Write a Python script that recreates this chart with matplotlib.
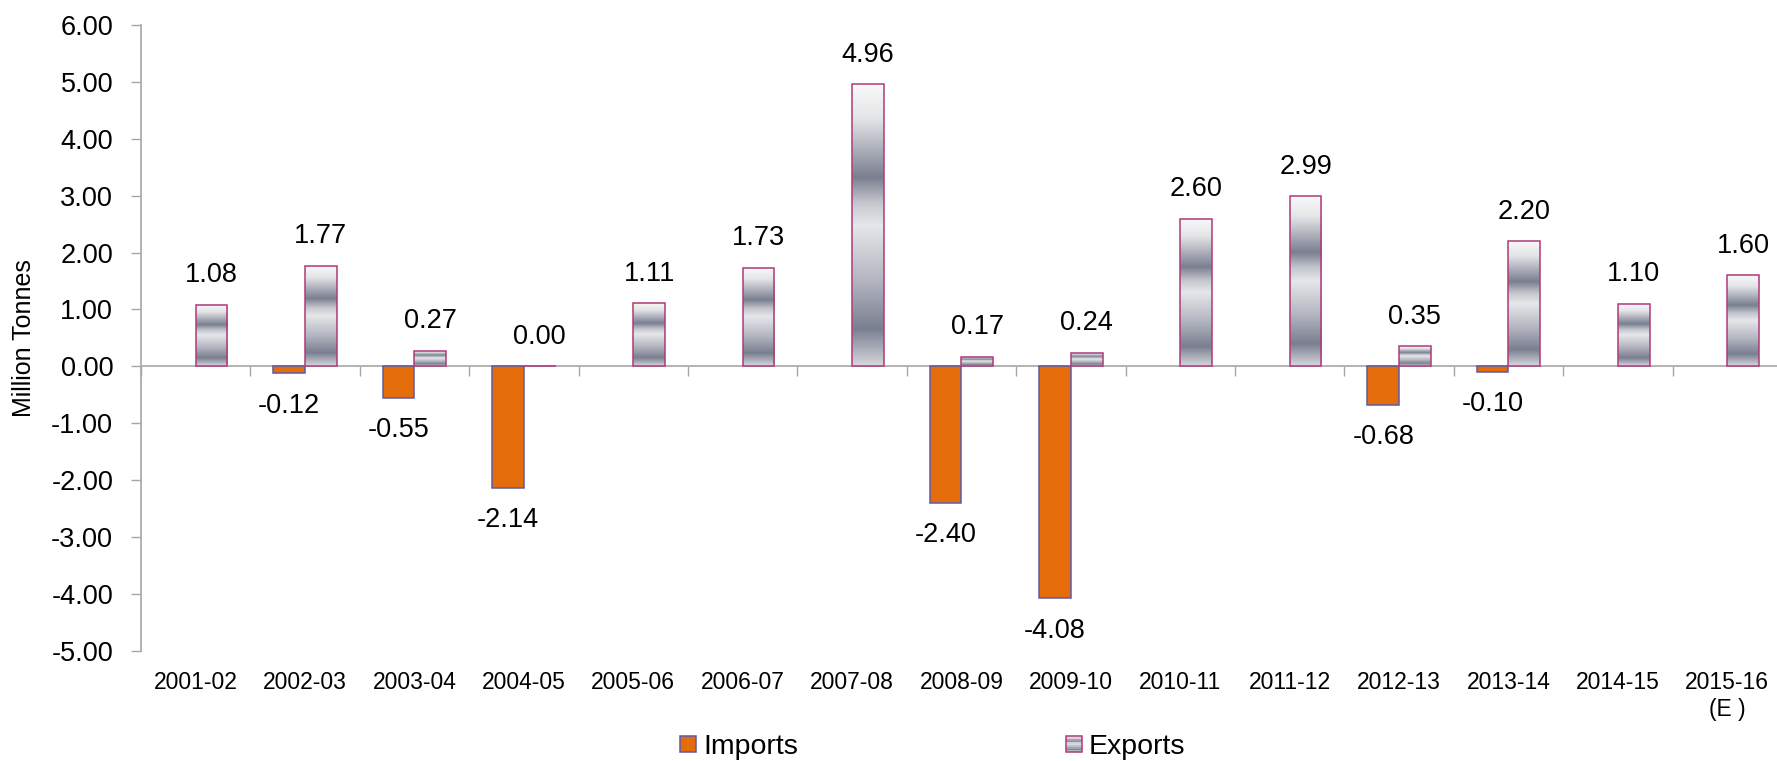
import numpy as np
import matplotlib
matplotlib.use('Agg')
import matplotlib.pyplot as plt
from matplotlib.colors import LinearSegmentedColormap
from matplotlib.patches import Patch, Rectangle
from matplotlib.legend_handler import HandlerBase

plt.rcParams['font.family'] = ['Liberation Sans', 'DejaVu Sans']

# ---- Datos (millones de toneladas) ----
years = ['2001-02', '2002-03', '2003-04', '2004-05', '2005-06', '2006-07', '2007-08',
         '2008-09', '2009-10', '2010-11', '2011-12', '2012-13', '2013-14', '2014-15',
         '2015-16\n(E )']
imports = [None, -0.12, -0.55, -2.14, None, None, None,
           -2.40, -4.08, None, None, -0.68, -0.10, None, None]
exports = [1.08, 1.77, 0.27, 0.00, 1.11, 1.73, 4.96,
           0.17, 0.24, 2.60, 2.99, 0.35, 2.20, 1.10, 1.60]
yticks = [-5, -4, -3, -2, -1, 0, 1, 2, 3, 4, 5, 6]

# ---- Estilos ----
IMP_COLOR = '#e46c0a'
IMP_EDGE = '#5b5ba8'
EXP_EDGE = '#b03a78'
AXIS_GRAY = '#a6a6a6'
W = 0.29

# degradado "cromo" de arriba hacia abajo
chrome = LinearSegmentedColormap.from_list('chrome', [
    (0.00, '#f9f9f9'), (0.12, '#e4e5e8'), (0.33, '#7a7f90'),
    (0.42, '#c4c6cd'), (0.50, '#e6e7ea'), (0.70, '#b2b5bf'),
    (0.87, '#7a7f90'), (1.00, '#d6d7dc')])
grad = np.linspace(0, 1, 256).reshape(-1, 1)


class HandlerChrome(HandlerBase):
    # cuadrito de la leyenda con franjas del degradado
    def create_artists(self, legend, orig_handle, xdescent, ydescent,
                       width, height, fontsize, trans):
        arts = []
        n = 10
        for k in range(n):
            y0 = -ydescent + height * (1 - (k + 1) / n)
            arts.append(Rectangle((-xdescent, y0), width, height / n,
                                  facecolor=chrome((k + 0.5) / n), edgecolor='none',
                                  transform=trans))
        arts.append(Rectangle((-xdescent, -ydescent), width, height, facecolor='none',
                              edgecolor=EXP_EDGE, linewidth=1.1, transform=trans))
        return arts


fig = plt.figure(figsize=(17.77, 7.61), dpi=100)
ax = fig.add_axes([0.0793, 0.1452, 0.9235, 0.8216])

x = np.arange(len(years))

# importaciones
imp_x = [i for i, v in zip(x, imports) if v is not None]
imp_v = [v for v in imports if v is not None]
imp_bars = ax.bar(np.array(imp_x) - W / 2, imp_v, width=W, color=IMP_COLOR,
                  edgecolor=IMP_EDGE, linewidth=1.1, zorder=3)

# exportaciones (contorno + degradado)
exp_bars = ax.bar(x + W / 2, exports, width=W, facecolor='none',
                  edgecolor=EXP_EDGE, linewidth=1.1, zorder=4)
for b in exp_bars:
    h = b.get_height()
    if h > 0:
        ax.imshow(grad, cmap=chrome, aspect='auto', origin='upper', zorder=3,
                  extent=[b.get_x(), b.get_x() + b.get_width(), 0, h],
                  interpolation='bilinear')

# etiquetas de valores
for xi, v in zip(imp_x, imp_v):
    ax.annotate(f'{v:.2f}', (xi - W / 2, v), xytext=(0, -14),
                textcoords='offset points', ha='center', va='top', fontsize=19.5)
for xi, v in zip(x, exports):
    ax.annotate(f'{v:.2f}', (xi + W / 2, v), xytext=(0, 12),
                textcoords='offset points', ha='center', va='bottom', fontsize=19.5)

# ejes
ax.set_xlim(-0.5, len(years) - 0.5)
ax.set_ylim(-5, 6)
ax.set_yticks(yticks)
ax.set_yticklabels([f'{t:.2f}' for t in yticks])
ax.tick_params(axis='y', length=7, width=1, color=AXIS_GRAY, pad=13, labelsize=19.5)

ax.spines['top'].set_visible(False)
ax.spines['right'].set_visible(False)
ax.spines['left'].set_color(AXIS_GRAY)
ax.spines['bottom'].set_color(AXIS_GRAY)
ax.spines['bottom'].set_position(('data', 0))
ax.spines['left'].set_linewidth(1.2)
ax.spines['bottom'].set_linewidth(1.2)

ax.set_xticks(np.arange(len(years) + 1) - 0.5)
ax.tick_params(axis='x', length=7, width=1, color=AXIS_GRAY, labelbottom=False)

sec = ax.secondary_xaxis(0.0)
sec.set_xticks(x, labels=years)
sec.tick_params(length=0, pad=15, labelsize=16.5)
sec.spines['bottom'].set_visible(False)

ax.text(-0.0713, 0.5, 'Million Tonnes', transform=ax.transAxes, rotation=90,
        ha='center', va='center', fontsize=18)

# leyenda
handles = [Patch(facecolor=IMP_COLOR, edgecolor=IMP_EDGE, linewidth=1.1),
           Patch(facecolor='#b8bac3', edgecolor=EXP_EDGE, linewidth=1.1)]
fig.legend(handles, ['Imports', 'Exports'], loc='center', bbox_to_anchor=(0.525, 0.0184),
           ncol=2, frameon=False, fontsize=20.5, handlelength=0.56, handleheight=0.485,
           handletextpad=0.25, columnspacing=9.4, borderpad=0,
           handler_map={handles[1]: HandlerChrome()})

fig.savefig('out.png', dpi=100)
